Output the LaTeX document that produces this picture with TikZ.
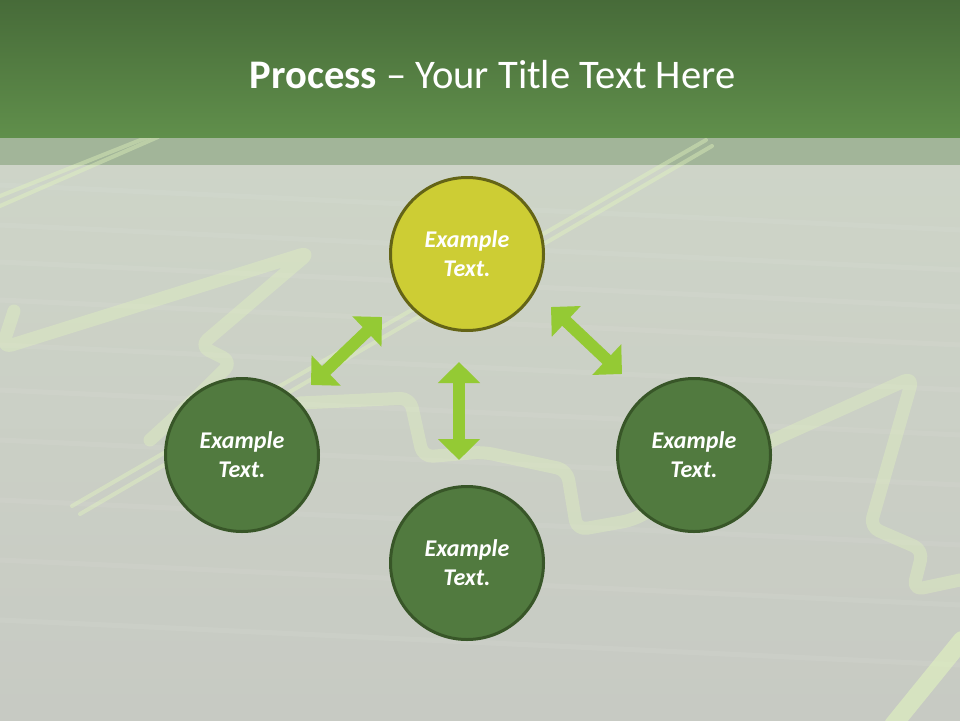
\documentclass[tikz,border=0pt]{standalone}
\usepackage{fontspec}
\setmainfont{Carlito}
\usetikzlibrary{arrows.meta}
\definecolor{hdtop}{RGB}{71,107,57}
\definecolor{hdbot}{RGB}{96,143,75}
\definecolor{strip}{RGB}{162,181,153}
\definecolor{bgtop}{RGB}{206,213,200}
\definecolor{bgbot}{RGB}{199,202,195}
\definecolor{deco}{RGB}{228,248,190}
\definecolor{arrowgreen}{RGB}{148,202,52}
\definecolor{yfill}{RGB}{205,205,52}
\definecolor{yline}{RGB}{100,100,22}
\definecolor{gfill}{RGB}{81,122,63}
\definecolor{gline}{RGB}{56,86,40}
\tikzset{
  decoband/.style={draw=deco, line width=13pt, opacity=0.35, line cap=round, line join=round, rounded corners=10pt},
  decotwin/.style={draw=deco, line width=4pt, opacity=0.4, line cap=round},
  streak/.style={draw=white, line width=5pt, opacity=0.06, line cap=round},
  bubble/.style={circle, minimum size=153pt, line width=3pt, text=white, align=center,
    font=\fontsize{24}{29}\selectfont\bfseries\itshape, inner sep=0pt},
  ybubble/.style={bubble, fill=yfill, draw=yline},
  gbubble/.style={bubble, fill=gfill, draw=gline},
  dblarrow/.style={draw=arrowgreen, line width=12pt,
    {Triangle[width=41pt,length=21pt]}-{Triangle[width=41pt,length=21pt]}}
}
\begin{document}
\begin{tikzpicture}[x=1pt,y=-1pt]
\useasboundingbox (0,0) rectangle (960,720);
% background
\fill[top color=bgtop, bottom color=bgbot] (0,137) rectangle (960,720);
\fill[strip] (0,137) rectangle (960,165);
% faint streaks
\foreach \yy in {185,225,262,300,345,390,440,500,560,620}{
  \draw[streak] (0,\yy) -- (960,\yy+45);
}
% decorative line
\draw[decotwin] (0,196) -- (153,135);
\draw[decotwin] (0,206) -- (158,137);
\draw[decotwin] (72,506) -- (706,140);
\draw[decotwin] (80,514) -- (712,146);
\draw[decoband] (14,311) -- (2,348) -- (310,252) -- (200,346) -- (232,362) -- (196,398) -- (150,440);
\draw[decoband] (300,403) -- (410,398) -- (423,457) -- (483,452) -- (567,470) -- (577,530) -- (633,520) -- (773,440) -- (913,377) -- (870,527) -- (923,550) -- (913,590) -- (960,580);
\draw[draw=deco, line width=18pt, opacity=0.55, line cap=round] (962,640) -- (893,725);
% header
\fill[top color=hdtop, bottom color=hdbot] (0,0) rectangle (960,137);
\node[text=white, font=\fontsize{40.6}{48}\selectfont, anchor=base] (title) at (492.5,88)
  {\textbf{Process} – Your Title Text Here};
% circles
\node[ybubble] (top) at (467,254) {Example\\Text.};
\node[gbubble] (left) at (242,455) {Example\\Text.};
\node[gbubble] (right) at (694,455) {Example\\Text.};
\node[gbubble] (bottom) at (467,563) {Example\\Text.};
% arrow end points
\coordinate (l1) at (311,385);
\coordinate (l2) at (382,317);
\coordinate (r1) at (551,307);
\coordinate (r2) at (622,374);
\coordinate (v1) at (459,362);
\coordinate (v2) at (459,460);
\draw[dblarrow] (l1) -- (l2);
\draw[dblarrow] (r1) -- (r2);
\draw[dblarrow] (v1) -- (v2);
\end{tikzpicture}
\end{document}
